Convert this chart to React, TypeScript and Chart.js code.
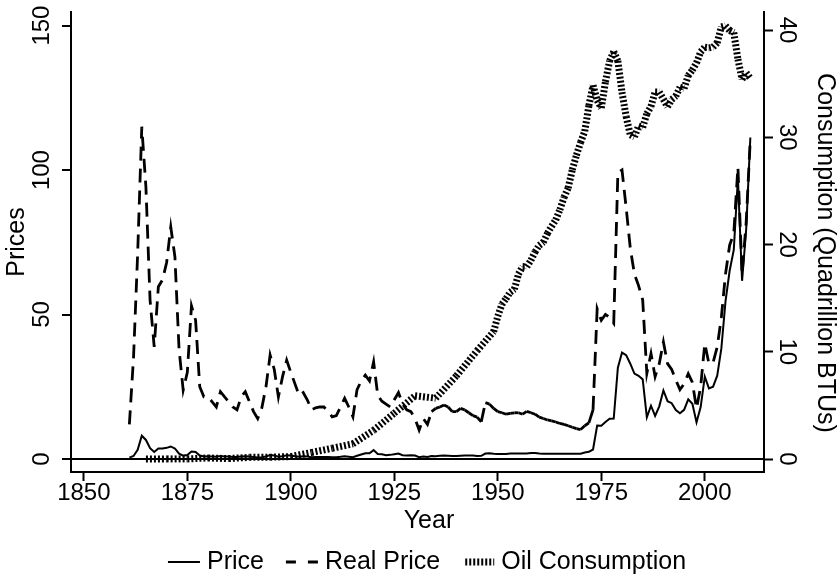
import React, { useEffect, useRef } from 'react';
import { Chart, registerables } from 'chart.js';

Chart.register(...registerables);

const FONT = "'Liberation Sans', Arial, Helvetica, sans-serif";

// ---- data ----
const PRICE_FIRST_YEAR = 1861;

const nominalPrice = [
  0.49, 1.05, 3.15, 8.06, 6.59, 3.74, 2.41, 3.63, 3.64, 3.86,
  4.34, 3.64, 1.83, 1.17, 1.35, 2.56, 2.42, 1.19, 0.86, 0.95,
  0.86, 0.78, 1.0, 0.84, 0.88, 0.71, 0.67, 0.88, 0.94, 0.87,
  0.67, 0.56, 0.64, 0.84, 1.36, 1.18, 0.79, 0.91, 1.29, 1.19,
  0.96, 0.8, 0.94, 0.86, 0.62, 0.73, 0.72, 0.72, 0.7, 0.61,
  0.61, 0.74, 0.95, 0.81, 0.64, 1.1, 1.56, 1.98, 2.01, 3.07,
  1.73, 1.61, 1.34, 1.43, 1.68, 1.88, 1.3, 1.17, 1.27, 1.19,
  0.65, 0.87, 0.67, 1.0, 0.97, 1.09, 1.18, 1.13, 1.02, 1.02,
  1.14, 1.19, 1.2, 1.21, 1.05, 1.12, 1.9, 1.99, 1.8, 1.71,
  1.71, 1.71, 1.93, 1.93, 1.93, 1.93, 1.9, 2.08, 2.08, 1.9,
  1.8, 1.8, 1.8, 1.8, 1.8, 1.8, 1.8, 1.8, 1.8, 1.8,
  2.24, 2.48, 3.29, 11.58, 11.53, 12.8, 13.92, 14.02, 31.61, 36.83,
  35.93, 32.97, 29.55, 28.78, 27.56, 14.43, 18.44, 14.92, 18.23, 23.73,
  20.0, 19.32, 16.97, 15.82, 17.02, 20.67, 19.09, 12.72, 17.97, 28.5,
  24.44, 25.02, 28.83, 38.27, 54.52, 65.14, 72.39, 97.26, 61.67, 79.5,
  111.26,
];

const realPrice = [
  12, 35, 71, 115, 94, 55, 38.8, 59.6, 62, 68,
  80.3, 70, 38, 23.8, 30, 53, 48, 25, 21.5, 21.5,
  19.8, 18, 23.3, 21.5, 19.8, 18, 17, 21.5, 23.3, 19.8,
  16.4, 14, 17.7, 25, 36, 31, 21.5, 28.5, 34.2, 30,
  26, 22, 23, 20.4, 17, 17.7, 18, 18, 16.4, 14.6,
  15, 18, 21, 18, 14.6, 24, 27, 29, 27, 33.6,
  22, 20, 19, 18, 20.5, 23, 19, 17, 16.4, 14,
  10, 14, 12, 16.4, 17.5, 18, 18.7, 18, 16.4, 16.4,
  17.5, 17, 16, 15, 14.5, 12.9, 19.5, 19, 17.5, 16.4,
  16, 15.5, 15.8, 16, 16, 15.5, 16.5, 16, 15.5, 14.5,
  14, 13.5, 13.2, 12.8, 12.3, 12, 11.5, 11, 10.5, 10.2,
  11.5, 12.5, 17, 52, 48, 50, 49, 47, 99, 100,
  87, 73, 64, 60, 55, 29.6, 36.5, 28.5, 33, 40.5,
  33, 31, 27.3, 24, 26, 29.5, 26.5, 17.5, 25, 40,
  33, 33.4, 38.8, 49, 64, 74, 78, 101, 64, 82,
  111,
];

const consumptionYears = [
  1865, 1870, 1875, 1880, 1885, 1890, 1895, 1900, 1905, 1910,
  1915, 1920, 1925, 1930, 1935, 1940, 1945,
  1949, 1950, 1951, 1952, 1953, 1954, 1955, 1956, 1957, 1958,
  1959, 1960, 1961, 1962, 1963, 1964, 1965, 1966, 1967, 1968,
  1969, 1970, 1971, 1972, 1973, 1974, 1975, 1976, 1977, 1978,
  1979, 1980, 1981, 1982, 1983, 1984, 1985, 1986, 1987, 1988,
  1989, 1990, 1991, 1992, 1993, 1994, 1995, 1996, 1997, 1998,
  1999, 2000, 2001, 2002, 2003, 2004, 2005, 2006, 2007, 2008,
  2009, 2010, 2011,
];

const consumptionValues = [
  0.01, 0.011, 0.011, 0.096, 0.04, 0.156, 0.168, 0.229, 0.61, 1.007,
  1.418, 2.676, 4.28, 5.895, 5.675, 7.76, 10.11,
  11.88, 13.32, 14.43, 14.96, 15.56, 15.84, 17.25, 17.94, 17.93, 18.53,
  19.32, 19.92, 20.22, 21.05, 21.7, 22.3, 23.25, 24.4, 25.28, 26.98,
  28.34, 29.52, 30.56, 32.95, 34.84, 33.45, 32.73, 35.18, 37.12, 37.97,
  37.12, 34.2, 31.93, 30.23, 30.05, 31.05, 30.92, 32.2, 32.87, 34.22,
  34.21, 33.55, 32.85, 33.53, 33.84, 34.67, 34.55, 35.76, 36.27, 36.93,
  37.96, 38.4, 38.33, 38.4, 38.81, 40.29, 40.39, 39.96, 39.77, 37.28,
  35.4, 36.01, 35.5,
];

const xTickValues = [1850, 1875, 1900, 1925, 1950, 1975, 2000];
const priceTickValues = [0, 50, 100, 150];
const consumptionTickValues = [0, 10, 20, 30, 40];

const seriesNames = ['Price', 'Real Price', 'Oil Consumption'];
const xTitle = 'Year';
const leftTitle = 'Prices';
const rightTitle = 'Consumption (Quadrillion BTUs)';

// ---- helpers ----
const priceYears = nominalPrice.map((_, i) => PRICE_FIRST_YEAR + i);
// restart the dash pattern at every segment (dense flat stretch looks solid, as in the source)
const restartDash = (c: any) => (c.p0DataIndex % 2 ? 0.01 : 0);
const realDash = (c: any) => {
  const yr = priceYears[c.p0DataIndex];
  if (yr >= 1934 && yr < 1973) return c.p0DataIndex % 2 ? 0.01 : 0.02;
  return 0;
};

const annotatePlugin = {
  id: 'annotate',
  afterDraw(chart: any) {
    const { ctx, chartArea } = chart;
    ctx.save();
    ctx.fillStyle = '#000';
    ctx.strokeStyle = '#000';
    ctx.textBaseline = 'middle';
    ctx.textAlign = 'center';
    ctx.font = `25px ${FONT}`;

    ctx.fillText(xTitle, 429, 521);
    ctx.save();
    ctx.translate(17, (chartArea.top + chartArea.bottom) / 2);
    ctx.rotate(-Math.PI / 2);
    ctx.fillText(leftTitle, 0, 0);
    ctx.restore();
    ctx.save();
    ctx.translate(825, 253);
    ctx.rotate(Math.PI / 2);
    ctx.fillText(rightTitle, 0, 0);
    ctx.restore();

    const samples = [
      { width: 2, dash: [] as number[], from: 0, to: 32 },
      { width: 3, dash: [10, 12], from: 0, to: 32 },
      { width: 7, dash: [2, 2], from: 3, to: 32 },
    ];
    const sampleW = 32;
    const textGap = 7;
    const itemGap = 22;
    const widths = seriesNames.map((n) => ctx.measureText(n).width);
    const total = widths.reduce((a, b) => a + b, 0) + seriesNames.length * (sampleW + textGap) + (seriesNames.length - 1) * itemGap;
    let x = 427 - total / 2;
    const ly = 562;
    ctx.textAlign = 'left';
    seriesNames.forEach((name, i) => {
      const s = samples[i];
      ctx.save();
      ctx.lineWidth = s.width;
      ctx.lineCap = 'butt';
      ctx.setLineDash(s.dash);
      ctx.beginPath();
      ctx.moveTo(x + s.from, ly);
      ctx.lineTo(x + s.to, ly);
      ctx.stroke();
      ctx.restore();
      ctx.fillText(name, x + sampleW + textGap, ly);
      x += sampleW + textGap + widths[i] + itemGap;
    });
    ctx.restore();
  },
};

export default function App() {
  const canvasRef = useRef<HTMLCanvasElement | null>(null);

  useEffect(() => {
    const canvas = canvasRef.current;
    if (!canvas) return;
    Chart.defaults.font.family = FONT;
    Chart.defaults.color = '#000';

    const tickFont = { family: FONT, size: 24, lineHeight: 1 };
    const chart = new Chart(canvas, {
      type: 'line',
      data: {
        datasets: [
          {
            label: seriesNames[0],
            data: priceYears.map((x, i) => ({ x, y: nominalPrice[i] })),
            yAxisID: 'y',
            borderColor: '#000',
            borderWidth: 2,
            pointRadius: 0,
            tension: 0,
            fill: false,
            order: 2,
          },
          {
            label: seriesNames[1],
            data: priceYears.map((x, i) => ({ x, y: realPrice[i] })),
            yAxisID: 'y',
            borderColor: '#000',
            borderWidth: 2.8,
            borderDash: [14, 8],
            borderCapStyle: 'butt',
            pointRadius: 0,
            tension: 0,
            fill: false,
            segment: { borderDashOffset: realDash },
            order: 1,
          },
          {
            label: seriesNames[2],
            data: consumptionYears.map((x, i) => ({ x, y: consumptionValues[i] })),
            yAxisID: 'y2',
            borderColor: '#000',
            borderWidth: 7,
            borderDash: [2, 2],
            borderCapStyle: 'butt',
            pointRadius: 0,
            tension: 0,
            fill: false,
            segment: { borderDashOffset: restartDash },
            order: 0,
          },
        ],
      } as any,
      options: {
        animation: false,
        responsive: false,
        devicePixelRatio: 1,
        layout: { padding: { top: 12, left: 0, right: 0, bottom: 0 } },
        plugins: { legend: { display: false }, tooltip: { enabled: false } },
        scales: {
          x: {
            type: 'linear',
            position: 'bottom',
            min: 1846.9,
            max: 2014.3,
            afterBuildTicks: (s: any) => { s.ticks = xTickValues.map((v) => ({ value: v })); },
            afterFit: (s: any) => { s.height = 107; },
            grid: { drawOnChartArea: false, tickLength: 9, tickWidth: 2, tickColor: '#000' },
            border: { display: true, color: '#000', width: 2 },
            ticks: {
              color: '#000', font: tickFont, padding: 0, maxRotation: 0, minRotation: 0, autoSkip: false,
              callback: (v: any) => String(v),
            },
          },
          y: {
            type: 'linear',
            position: 'left',
            min: -4.5,
            max: 154.7,
            afterBuildTicks: (s: any) => { s.ticks = priceTickValues.map((v) => ({ value: v })); },
            afterFit: (s: any) => { s.width = 71; },
            grid: {
              drawOnChartArea: true,
              color: (c: any) => (c.tick && c.tick.value === 0 ? '#000' : 'rgba(0,0,0,0)'),
              lineWidth: 2,
              tickLength: 9, tickWidth: 2, tickColor: '#000',
            },
            border: { display: true, color: '#000', width: 2 },
            ticks: {
              color: '#000', font: tickFont, padding: 0, minRotation: 90, maxRotation: 90,
              crossAlign: 'center', autoSkip: false, callback: (v: any) => String(v),
            },
          },
          y2: {
            type: 'linear',
            position: 'right',
            min: -1.21,
            max: 41.68,
            afterBuildTicks: (s: any) => { s.ticks = consumptionTickValues.map((v) => ({ value: v })); },
            afterFit: (s: any) => { s.width = 76; },
            grid: { drawOnChartArea: false, tickLength: 9, tickWidth: 2, tickColor: '#000' },
            border: { display: true, color: '#000', width: 2 },
            ticks: {
              color: '#000', font: tickFont, padding: 0, minRotation: -90, maxRotation: -90,
              crossAlign: 'center', autoSkip: false, callback: (v: any) => String(v),
            },
          },
        },
      } as any,
      plugins: [annotatePlugin],
    });
    return () => chart.destroy();
  }, []);

  return (
    <div style={{ position: 'absolute', left: 0, top: 0, width: 840, height: 579, background: '#fff' }}>
      <canvas ref={canvasRef} width={840} height={579} style={{ width: 840, height: 579, display: 'block' }} />
    </div>
  );
}
